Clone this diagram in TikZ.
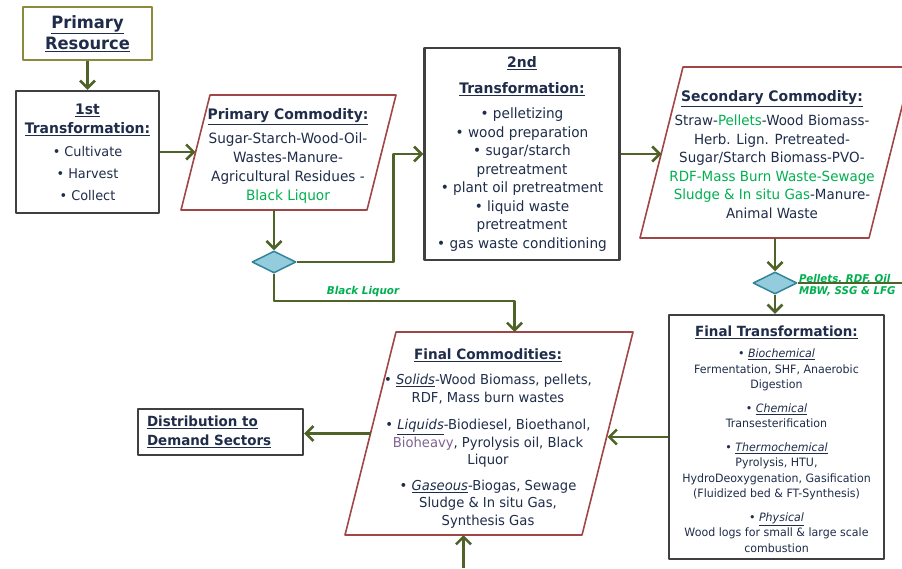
\documentclass[tikz,border=0pt]{standalone}
\usepackage{fontspec}
\setmainfont{DejaVu Sans}[FakeStretch=0.96]
\usetikzlibrary{shapes.geometric,arrows.meta,calc}
\definecolor{navy}{HTML}{1F2D4A}
\definecolor{arrowgreen}{HTML}{4F6228}
\definecolor{txtgreen}{HTML}{00B050}
\definecolor{pgred}{HTML}{A04646}
\definecolor{boxgray}{HTML}{404040}
\definecolor{olivebd}{HTML}{8C8A3C}
\definecolor{dfill}{HTML}{93CDDD}
\definecolor{dborder}{HTML}{31849B}
\definecolor{purp}{HTML}{7F6391}
\newcommand\hd[1]{\textbf{\underline{#1}}}
\newcommand\hdb[1]{{\fontsize{14.5}{19}\selectfont\hd{#1}}}
\newcommand\ul[1]{\underline{\textit{#1}}}
\begin{document}
\begin{tikzpicture}[x=1pt,y=-1pt,line join=round,
  flow/.style={draw=arrowgreen,line width=2.6pt,-{Straight Barb[length=7.5pt,width=15pt]}},
  flowline/.style={draw=arrowgreen,line width=2.6pt},
  tbox/.style={draw=boxgray,line width=2.2pt,fill=white,align=center,text=navy,inner sep=0pt},
  pgborder/.style={draw=pgred,line width=1.6pt,fill=white},
  ptext/.style={align=center,text=navy,inner sep=0pt},
  dia/.style={diamond,aspect=2,draw=dborder,fill=dfill,line width=1.5pt,
    minimum width=44pt,minimum height=22pt,inner sep=0pt},
  lab/.style={text=txtgreen,inner sep=0pt,font=\fontsize{10.8}{13}\selectfont\bfseries\itshape}]
\useasboundingbox (0,0) rectangle (902,568);

% parallelogram corners
\coordinate (pcBL) at (181,210); \coordinate (pcBR) at (367,210);
\coordinate (pcTR) at (396,95);  \coordinate (pcTL) at (210,95);
\coordinate (scBL) at (640,238); \coordinate (scBR) at (869,238);
\coordinate (scTR) at (912,67);  \coordinate (scTL) at (683,67);
\coordinate (fcBL) at (345,535); \coordinate (fcBR) at (582,535);
\coordinate (fcTR) at (633,332); \coordinate (fcTL) at (396,332);
\coordinate (pcW) at ($(pcBL)!0.5!(pcTL)$);
\coordinate (pcS) at ($(pcBL)!0.5!(pcBR)$);
\coordinate (scW) at ($(scBL)!0.5!(scTL)$);
\coordinate (fcN) at ($(fcTL)!0.5!(fcTR)$);
\coordinate (fcE) at ($(fcBR)!0.5!(fcTR)$);
\coordinate (fcW) at ($(fcBL)!0.5!(fcTL)$);
\coordinate (fcS) at ($(fcBL)!0.5!(fcBR)$);

% shapes
\node[tbox,draw=olivebd,minimum width=129pt,minimum height=53pt,
  font=\fontsize{17}{21}\selectfont] (pr) at (87.5,33.5) {\hd{Primary}\\\hd{Resource}};
\node[tbox,minimum width=143pt,minimum height=122pt,font=\fontsize{13.4}{19}\selectfont]
  (t1) at (87.5,152) {\hdb{1st}\\\hdb{Transformation:}\\[4pt]• Cultivate\\[3pt]• Harvest\\[3pt]• Collect};
\path[pgborder] (pcBL) -- (pcBR) -- (pcTR) -- (pcTL) -- cycle;
\node[ptext,font=\fontsize{14.2}{19}\selectfont] (pct) at (288,156)
  {\hdb{Primary Commodity:}\\[5pt]Sugar-Starch-Wood-Oil-\\Wastes-Manure-\\Agricultural Residues -\\\textcolor{txtgreen}{Black Liquor}};
\node[dia] (d1) at (274,262) {};
\node[tbox,minimum width=195pt,minimum height=212pt,font=\fontsize{14.2}{18.5}\selectfont]
  (t2) at (522,154) {\hdb{2nd}\\[7pt]\hdb{Transformation:}\\[7pt]• pelletizing\\• wood preparation\\• sugar/starch\\pretreatment\\• plant oil pretreatment\\• liquid waste\\pretreatment\\• gas waste conditioning};
\path[pgborder] (scBL) -- (scBR) -- (scTR) -- (scTL) -- cycle;
\node[ptext,font=\fontsize{14}{18.5}\selectfont] (sct) at (772,154.5)
  {\hdb{Secondary Commodity:}\\[6pt]Straw-\textcolor{txtgreen}{Pellets}-Wood Biomass-\\Herb. Lign. Pretreated-\\Sugar/Starch Biomass-PVO-\\\textcolor{txtgreen}{RDF-Mass Burn Waste-Sewage}\\\textcolor{txtgreen}{Sludge \& In situ Gas}-Manure-\\Animal Waste};
\node[dia] (d2) at (775,283) {};
\node[lab,anchor=west,align=left,font=\fontsize{10.7}{12}\selectfont\bfseries\itshape] (d2lab) at (799,285) {Pellets, RDF, Oil\\MBW, SSG \& LFG};
\node[tbox,minimum width=215pt,minimum height=244pt] (ft) at (776.5,437) {};
\node[ptext,font=\fontsize{11.5}{15.5}\selectfont] (ftt) at (776.5,439.5) {{\fontsize{14}{17}\selectfont\hd{Final Transformation:}}\\[5.5pt]
  • \ul{Biochemical}\\Fermentation, SHF, Anaerobic\\Digestion\\[8pt]
  • \ul{Chemical}\\Transesterification\\[8pt]
  • \ul{Thermochemical}\\Pyrolysis, HTU,\\HydroDeoxygenation, Gasification\\(Fluidized bed \& FT-Synthesis)\\[8pt]
  • \ul{Physical}\\Wood logs for small \& large scale\\combustion};
\path[pgborder] (fcBL) -- (fcBR) -- (fcTR) -- (fcTL) -- cycle;
\node[ptext,font=\fontsize{13.7}{17.5}\selectfont] (fct) at (488,438.5)
  {{\fontsize{14.2}{17.5}\selectfont\hd{Final Commodities:}}\\[8pt]• \ul{Solids}-Wood Biomass, pellets,\\RDF, Mass burn wastes\\[10pt]
  • \ul{Liquids}-Biodiesel, Bioethanol,\\\textcolor{purp}{Bioheavy}, Pyrolysis oil, Black\\Liquor\\[8pt]
  • \ul{Gaseous}-Biogas, Sewage\\Sludge \& In situ Gas,\\Synthesis Gas};
\node[tbox,text width=147pt,inner xsep=9pt,minimum height=46pt,align=left,
  font=\fontsize{14}{19}\selectfont\bfseries] (ds) at (220.5,432) {\underline{Distribution to}\\\underline{Demand Sectors}};
\node[lab] (bl) at (363,292) {Black Liquor};
\coordinate (edge) at (902,283);
\coordinate (bin) at (463.5,568);

% connectors
\draw[flow] (pr.south) -- (t1.north);
\draw[flow] (t1.east) -- (t1.east -| pcW);
\draw[flow] (pcS) -- (pcS |- d1.north);
\draw[flow] (d1.east) -- ++(97,0) |- (t2.west);
\draw[flow] (d1.south) |- ($(fcN)+(0,-31)$) -- (fcN);
\draw[flow] (t2.east) -- (t2.east -| scW);
\draw[flow] (d2.north |- scBL) -- (d2.north);
\draw[flowline] (d2.east) -- (edge);
\draw[flow] (d2.south) -- (d2.south |- ft.north);
\draw[flow] (ft.west) -- (ft.west -| fcE);
\draw[flow] (fcW) -- (fcW -| ds.east);
\draw[flow] (bin) -- (fcS);
\end{tikzpicture}
\end{document}
